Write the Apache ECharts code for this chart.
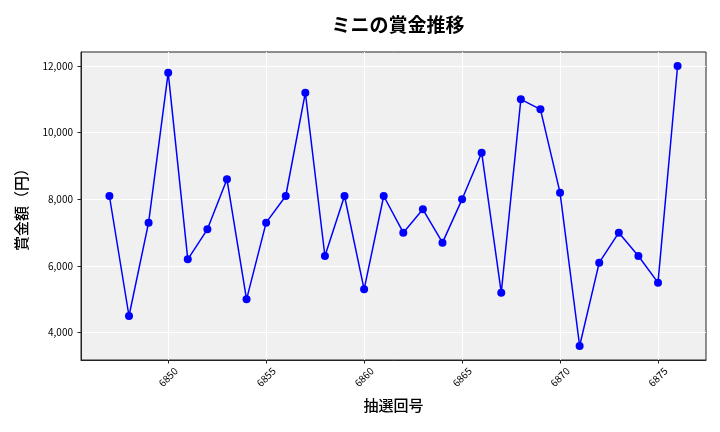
<!DOCTYPE html>
<html>
<head>
<meta charset="utf-8">
<script src="https://cdn.jsdelivr.net/npm/echarts@6/dist/echarts.min.js"></script>
<style>html,body{margin:0;padding:0;background:#fff;}#c{width:720px;height:432px;}</style>
</head>
<body>
<div id="c"></div>
<script>
const draws = [6847,6848,6849,6850,6851,6852,6853,6854,6855,6856,6857,6858,6859,6860,6861,6862,6863,6864,6865,6866,6867,6868,6869,6870,6871,6872,6873,6874,6875,6876];
const prizes = [8100,4500,7300,11800,6200,7100,8600,5000,7300,8100,11200,6300,8100,5300,8100,7000,7700,6700,8000,9400,5200,11000,10700,8200,3600,6100,7000,6300,5500,12000];
const xTicks = [6850,6855,6860,6865,6870,6875];
const yTicks = [4000,6000,8000,10000,12000];

const FONT = '"Noto Sans CJK JP", "Noto Sans", sans-serif';
const chart = echarts.init(document.getElementById('c'), null, {renderer: 'canvas'});
chart.setOption({
  animation: false,
  backgroundColor: '#ffffff',
  title: {
    text: 'ミニの賞金推移',
    left: 393, top: 10, textAlign: 'center',
    textStyle: {fontFamily: FONT, fontSize: 19, fontWeight: 'bold', color: '#000'}
  },
  grid: {
    left: 81, right: 14, top: 52, bottom: 72,
    show: true, backgroundColor: '#f0f0f0', borderColor: '#222', borderWidth: 1
  },
  xAxis: {
    type: 'value',
    min: 6845.55, max: 6877.45, minInterval: 5, maxInterval: 5,
    name: '抽選回号', nameLocation: 'middle', nameGap: 38,
    nameTextStyle: {fontFamily: FONT, fontSize: 15, fontWeight: 500, color: '#000'},
    axisLine: {show: true, onZero: false, lineStyle: {color: '#222', width: 1}},
    axisTick: {show: true, length: 3.5, customValues: xTicks, lineStyle: {color: '#222'}},
    axisLabel: {
      customValues: xTicks, rotate: 45, align: 'center', verticalAlign: 'middle', margin: 17,
      fontFamily: FONT, fontSize: 10, color: '#000',
      formatter: v => String(v)
    },
    splitLine: {show: true, lineStyle: {color: '#ffffff', width: 1}}
  },
  yAxis: {
    type: 'value',
    min: 3180, max: 12420, minInterval: 2000, maxInterval: 2000,
    name: '賞金額（円）', nameLocation: 'middle', nameGap: 52, nameRotate: 90,
    nameTextStyle: {fontFamily: FONT, fontSize: 15, fontWeight: 500, color: '#000'},
    axisLine: {show: true, lineStyle: {color: '#222', width: 1}},
    axisTick: {show: true, length: 3.5, customValues: yTicks, lineStyle: {color: '#222'}},
    axisLabel: {
      customValues: yTicks, margin: 8,
      fontFamily: FONT, fontSize: 10, color: '#000',
      formatter: v => v.toLocaleString('en-US')
    },
    splitLine: {show: true, lineStyle: {color: '#ffffff', width: 1}}
  },
  series: [{
    type: 'line',
    data: draws.map((d, i) => [d, prizes[i]]),
    symbol: 'circle', symbolSize: 8,
    lineStyle: {color: '#0000ff', width: 1.5},
    itemStyle: {color: '#0000ff'}
  }]
});
</script>
</body>
</html>
